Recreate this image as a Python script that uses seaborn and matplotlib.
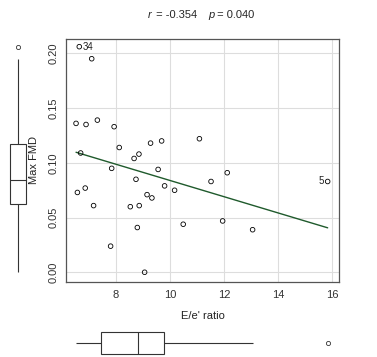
import matplotlib
matplotlib.use("Agg")
import matplotlib.pyplot as plt
import seaborn as sns
import numpy as np
import pandas as pd

# data
ee_ratio = [6.64, 7.10, 6.52, 6.89, 7.31, 7.93, 8.12, 9.28, 9.69, 11.09,
            6.69, 8.67, 8.85, 7.84, 9.56, 8.74, 9.80, 10.17, 11.52, 12.12,
            15.84, 6.57, 6.86, 7.17, 8.53, 8.86, 9.15, 9.33, 8.79, 10.49,
            11.95, 13.06, 7.80, 9.06]
max_fmd = [0.206, 0.195, 0.136, 0.135, 0.139, 0.133, 0.114, 0.118, 0.120, 0.122,
           0.109, 0.104, 0.108, 0.095, 0.094, 0.085, 0.079, 0.075, 0.083, 0.091,
           0.083, 0.073, 0.077, 0.061, 0.060, 0.061, 0.071, 0.068, 0.041, 0.044,
           0.047, 0.039, 0.024, 0.0002]
point_labels = {0: "34", 20: "5"}
x_ticks = [8, 10, 12, 14, 16]
y_ticks = [0.00, 0.05, 0.10, 0.15, 0.20]
title_r = "-0.354"
title_p = "0.040"

df = pd.DataFrame({"ee": ee_ratio, "fmd": max_fmd})

sns.set_style("white")
plt.rcParams["font.family"] = ["Liberation Sans", "DejaVu Sans"]

W, H = 377, 357
fig = plt.figure(figsize=(W / 100, H / 100), dpi=100)

xlim = (6.148, 16.26)
ylim = (-0.0087, 0.2130)

L, R, T, B = 66, 339, 39, 282
ax = fig.add_axes([L / W, (H - B) / H, (R - L) / W, (B - T) / H])
ax.set_xlim(*xlim)
ax.set_ylim(*ylim)
ax.set_xticks(x_ticks)
ax.set_yticks(y_ticks)
ax.set_yticklabels([f"{v:.2f}" for v in y_ticks], rotation=90, va="center")
ax.grid(True, color="#dddddd", linewidth=0.8)
ax.set_axisbelow(True)
for s in ax.spines.values():
    s.set_color("#555555")
    s.set_linewidth(0.9)
ax.tick_params(axis="both", direction="out", length=4, width=0.8,
               color="#444444", labelsize=8, labelcolor="#333333", pad=2)
ax.tick_params(axis="y", pad=1)

sns.regplot(data=df, x="ee", y="fmd", scatter=False, ci=None, ax=ax,
            line_kws=dict(color="#1f5a2c", linewidth=1.0))
sns.scatterplot(data=df, x="ee", y="fmd", ax=ax, marker="o", s=11,
                facecolor="none", edgecolor="black", linewidth=0.6, zorder=3)
ax.set_xlim(*xlim)
ax.set_ylim(*ylim)

for i, lab in point_labels.items():
    if ee_ratio[i] > 14:
        ax.annotate(lab, (ee_ratio[i], max_fmd[i]), xytext=(-3, 0),
                    textcoords="offset points", ha="right", va="center",
                    fontsize=7, color="#222222")
    else:
        ax.annotate(lab, (ee_ratio[i], max_fmd[i]), xytext=(2.5, 0),
                    textcoords="offset points", ha="left", va="center",
                    fontsize=7, color="#222222")

ax.set_xlabel("E/e' ratio", fontsize=8, color="#222222", labelpad=8)
ax.set_ylabel("Max FMD", fontsize=8, color="#222222", labelpad=7)

fig.text(0.392, 1 - 15 / H, "r", style="italic", fontsize=8, ha="left", va="center")
fig.text(0.407, 1 - 15 / H, f" = {title_r}", fontsize=8, ha="left", va="center")
fig.text(0.552, 1 - 15 / H, "p", style="italic", fontsize=8, ha="left", va="center")
fig.text(0.567, 1 - 15 / H, f" = {title_p}", fontsize=8, ha="left", va="center")

# left marginal boxplot
axl = fig.add_axes([4 / W, (H - B) / H, 28 / W, (B - T) / H])
sns.boxplot(y=max_fmd, ax=axl, color="white", linecolor="#333333", linewidth=0.8,
            width=0.58, showcaps=False,
            flierprops=dict(marker="o", markersize=3, markerfacecolor="none",
                            markeredgecolor="#333333", markeredgewidth=0.6))
axl.set_ylim(*ylim)
axl.set_xlim(-0.5, 0.5)
axl.axis("off")

# bottom marginal boxplot
axb = fig.add_axes([L / W, 0 / H, (R - L) / W, 28 / H])
sns.boxplot(x=ee_ratio, ax=axb, color="white", linecolor="#333333", linewidth=0.8,
            width=0.8, showcaps=False,
            flierprops=dict(marker="o", markersize=3, markerfacecolor="none",
                            markeredgecolor="#333333", markeredgewidth=0.6))
axb.set_xlim(*xlim)
axb.set_ylim(0.5, -0.5)
axb.axis("off")

fig.savefig("out.png", dpi=100, facecolor="white")
